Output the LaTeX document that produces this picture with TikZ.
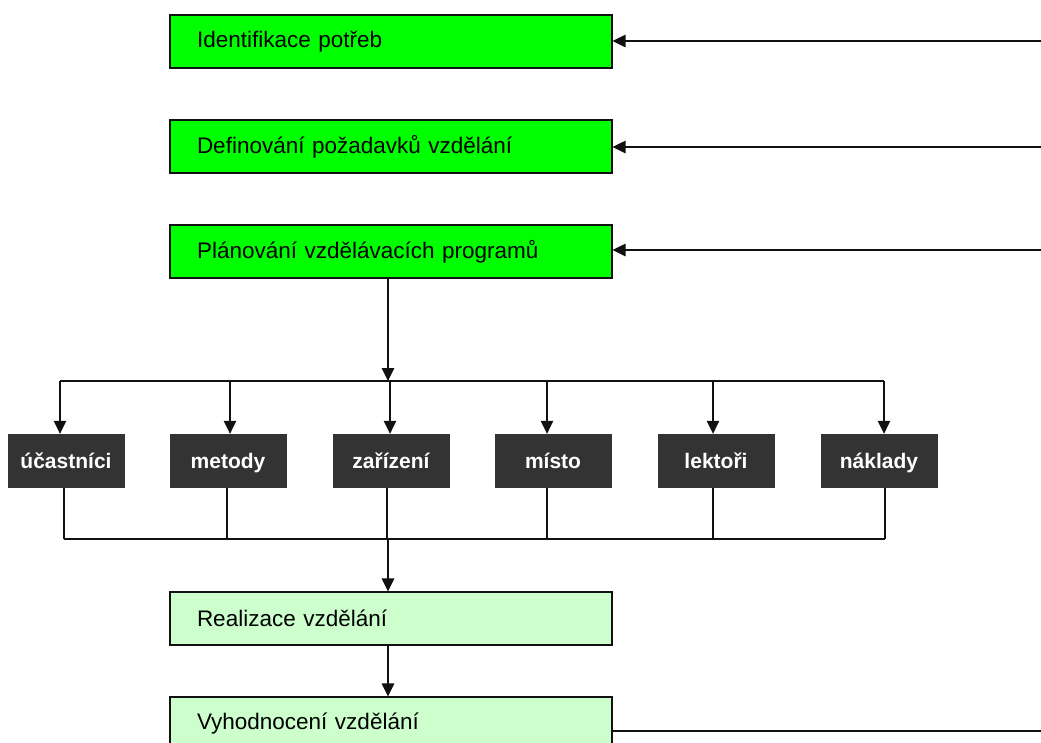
\documentclass[tikz,border=0pt]{standalone}
\usepackage{fontspec}
\setmainfont{Liberation Sans}
\usetikzlibrary{arrows.meta}
\definecolor{brightgreen}{HTML}{00FF00}
\definecolor{palegreen}{HTML}{CCFFCC}
\definecolor{darkbox}{HTML}{333333}
\definecolor{lineclr}{HTML}{111111}
\begin{document}
\begin{tikzpicture}[x=1pt,y=-1pt,
  gbox/.style={draw=lineclr, line width=1.2pt, minimum width=442pt, minimum height=53pt,
    text width=388pt, inner xsep=27pt, inner ysep=0pt, align=left,
    font=\fontsize{22.5}{26}\selectfont},
  greenbox/.style={gbox, fill=brightgreen},
  paletbox/.style={gbox, fill=palegreen},
  darkbx/.style={fill=darkbox, minimum width=117pt, minimum height=54pt, inner sep=0pt,
    text height=17pt, text depth=1.5pt,
    text=white, font=\fontsize{21}{24}\selectfont\bfseries},
  conn/.style={draw=lineclr, line width=1.3pt},
  arr/.style={conn, -{Triangle[length=13pt,width=12.5pt]}}
]
\useasboundingbox (0,0) rectangle (1041,742);
\clip (0,0) rectangle (1041,742);

% main process boxes
\node[greenbox] (g1) at (391,41.5) {Identifikace potřeb};
\node[greenbox] (g2) at (391,146.5) {Definování požadavků vzdělání};
\node[greenbox] (g3) at (391,251.5) {Plánování vzdělávacích programů};
\node[paletbox] (r1) at (391,618.5) {Realizace vzdělání};
\node[paletbox] (r2) at (391,723.5) {Vyhodnocení vzdělání};

% feedback lines from the right
\coordinate (e1) at (1041,41);
\coordinate (e2) at (1041,147);
\coordinate (e3) at (1041,250);
\coordinate (e4) at (1041,731);
\draw[arr] (e1) -- (e1 -| g1.east);
\draw[arr] (e2) -- (e2 -| g2.east);
\draw[arr] (e3) -- (e3 -| g3.east);
\draw[conn] (e4 -| r2.east) -- (e4);

% resource boxes
\node[darkbx] (d1) at (66,461) {účastníci};
\node[darkbx] (d2) at (228,461) {metody};
\node[darkbx] (d3) at (391,461) {zařízení};
\node[darkbx] (d4) at (553,461) {místo};
\node[darkbx] (d5) at (716,461) {lektoři};
\node[darkbx] (d6) at (879,461) {náklady};

% top distribution bus
\coordinate (s0) at (388,381);
\coordinate (t1) at (60,381);
\coordinate (t2) at (230,381);
\coordinate (t3) at (390,381);
\coordinate (t4) at (547,381);
\coordinate (t5) at (713,381);
\coordinate (t6) at (884,381);
\draw[arr] (s0 |- g3.south) -- (s0);
\draw[conn] (t1) -- (t6);
\foreach \i in {1,...,6} {\draw[arr] (t\i) -- (t\i |- d\i.north);}

% bottom collection bus
\coordinate (u1) at (64,539);
\coordinate (u2) at (227,539);
\coordinate (u3) at (387,539);
\coordinate (u4) at (547,539);
\coordinate (u5) at (713,539);
\coordinate (u6) at (885,539);
\coordinate (m0) at (388,539);
\foreach \i in {1,...,6} {\draw[conn] (u\i |- d\i.south) -- (u\i);}
\draw[conn] (u1) -- (u6);
\draw[arr] (m0) -- (m0 |- r1.north);
\draw[arr] (m0 |- r1.south) -- (m0 |- r2.north);
\end{tikzpicture}
\end{document}
